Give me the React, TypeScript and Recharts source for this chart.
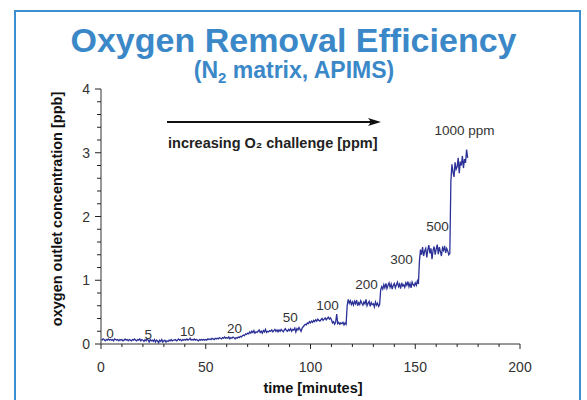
import React from 'react';
import { LineChart, Line, XAxis, YAxis, ReferenceDot } from 'recharts';

// Sampling interval of the recorded trace (minutes)
const SAMPLE_STEP_MIN = 0.5;

// Oxygen outlet concentration [ppb], one value every 0.5 min from t = 0 to 175 min
const outletPpb: number[] = [
  // 0 - 9.5
  0.07, 0.06, 0.08, 0.07, 0.05, 0.07, 0.06, 0.08, 0.06, 0.07,
  0.06, 0.07, 0.05, 0.08, 0.07, 0.06, 0.07, 0.05, 0.07, 0.06,
  // 10 - 19.5
  0.07, 0.05, 0.06, 0.08, 0.06, 0.07, 0.05, 0.07, 0.06, 0.05,
  0.07, 0.06, 0.08, 0.06, 0.05, 0.07, 0.06, 0.08, 0.05, 0.07,
  // 20 - 29.5
  0.06, 0.04, 0.07, 0.05, 0.08, 0.06, 0.03, 0.07, 0.05, 0.06,
  0.04, 0.07, 0.03, 0.06, 0.05, 0.02, 0.06, 0.04, 0.07, 0.03,
  // 30 - 39.5
  0.05, 0.06, 0.03, 0.05, 0.04, 0.06, 0.05, 0.07, 0.05, 0.06,
  0.06, 0.07, 0.05, 0.06, 0.08, 0.06, 0.07, 0.05, 0.07, 0.06,
  // 40 - 49.5
  0.07, 0.06, 0.08, 0.06, 0.07, 0.09, 0.06, 0.07, 0.06, 0.08,
  0.06, 0.07, 0.06, 0.05, 0.07, 0.06, 0.07, 0.06, 0.07, 0.06,
  // 50 - 59.5
  0.07, 0.06, 0.08, 0.07, 0.08, 0.07, 0.09, 0.08, 0.07, 0.09,
  0.08, 0.09, 0.08, 0.10, 0.09, 0.08, 0.10, 0.09, 0.11, 0.09,
  // 60 - 69.5
  0.10, 0.09, 0.11, 0.08, 0.10, 0.09, 0.11, 0.10, 0.08, 0.10,
  0.09, 0.11, 0.10, 0.12, 0.11, 0.13, 0.14, 0.13, 0.16, 0.15,
  // 70 - 79.5
  0.17, 0.16, 0.19, 0.17, 0.20, 0.18, 0.21, 0.17, 0.19, 0.18,
  0.20, 0.22, 0.18, 0.20, 0.17, 0.21, 0.19, 0.23, 0.18, 0.20,
  // 80 - 89.5
  0.19, 0.21, 0.20, 0.22, 0.19, 0.21, 0.23, 0.20, 0.22, 0.19,
  0.22, 0.20, 0.23, 0.21, 0.19, 0.22, 0.24, 0.21, 0.20, 0.23,
  // 90 - 99.5
  0.21, 0.24, 0.20, 0.23, 0.22, 0.25, 0.19, 0.24, 0.22, 0.26,
  0.23, 0.20, 0.25, 0.27, 0.29, 0.31, 0.30, 0.33, 0.32, 0.35,
  // 100 - 109.5
  0.33, 0.36, 0.34, 0.37, 0.35, 0.38, 0.36, 0.39, 0.37, 0.36,
  0.38, 0.40, 0.37, 0.39, 0.41, 0.38, 0.40, 0.42, 0.39, 0.41,
  // 110 - 119.5
  0.38, 0.33, 0.35, 0.31, 0.34, 0.47, 0.32, 0.34, 0.31, 0.33,
  0.32, 0.34, 0.30, 0.33, 0.31, 0.60, 0.70, 0.64, 0.68, 0.62,
  // 120 - 129.5
  0.66, 0.61, 0.67, 0.63, 0.69, 0.60, 0.65, 0.62, 0.68, 0.64,
  0.61, 0.66, 0.63, 0.70, 0.60, 0.64, 0.67, 0.59, 0.65, 0.62,
  // 130 - 139.5
  0.63, 0.58, 0.66, 0.61, 0.64, 0.59, 0.62, 0.85, 0.90, 0.86,
  0.93, 0.88, 0.95, 0.87, 0.92, 0.96, 0.89, 0.94, 0.86, 0.92,
  // 140 - 149.5
  0.95, 0.88, 0.93, 0.97, 0.90, 0.94, 0.87, 0.96, 0.91, 0.93,
  0.89, 0.96, 0.92, 0.98, 0.90, 0.95, 0.88, 0.97, 0.93, 0.91,
  // 150 - 159.5
  0.96, 0.92, 0.99, 0.94, 1.30, 1.48, 1.40, 1.52, 1.38, 1.46,
  1.50, 1.36, 1.48, 1.55, 1.42, 1.50, 1.33, 1.47, 1.53, 1.40,
  // 160 - 169.5
  1.49, 1.56, 1.41, 1.52, 1.45, 1.38, 1.51, 1.47, 1.54, 1.43,
  1.50, 1.46, 1.40, 1.42, 2.55, 2.82, 2.70, 2.62, 2.85, 2.74,
  // 170 - 175
  2.78, 2.92, 2.68, 2.86, 2.80, 2.95, 2.76, 2.90, 2.84, 3.05,
  2.92,
];

const xTicks = [0, 10, 20, 30, 40, 50, 60, 70, 80, 90, 100, 110, 120, 130, 140, 150, 160, 170, 180, 190, 200];
const yTicks = [0, 0.2, 0.4, 0.6, 0.8, 1, 1.2, 1.4, 1.6, 1.8, 2, 2.2, 2.4, 2.6, 2.8, 3, 3.2, 3.4, 3.6, 3.8, 4];

// O2 challenge level labels (placed at time [min], concentration [ppb])
const challengeText = ['0', '5', '10', '20', '50', '100', '200', '300', '500', '1000 ppm'];
const challengeT = [4.3, 22.6, 41.3, 63.7, 90.4, 108.1, 126.7, 143.4, 160.6, 173.5];
const challengePpb = [0.17, 0.16, 0.2, 0.25, 0.42, 0.61, 0.94, 1.33, 1.85, 3.35];

const data = outletPpb.map((v, i) => ({ t: i * SAMPLE_STEP_MIN, v }));

const FONT = "'Liberation Sans', Arial, Helvetica, sans-serif";

const XTick = (props: any) => {
  const { x, y, payload } = props;
  const v = payload.value as number;
  const major = v % 50 === 0;
  return (
    <g>
      <line x1={x} x2={x} y1={y} y2={y + (major ? 5 : 3)} stroke="#222" strokeWidth={1} />
      {major && (
        <text x={x} y={y + 28} textAnchor="middle" fontSize={14} fill="#333" fontFamily={FONT}>
          {v}
        </text>
      )}
    </g>
  );
};

const YTick = (props: any) => {
  const { x, y, payload } = props;
  const v = payload.value as number;
  const major = Math.abs(v - Math.round(v)) < 1e-6;
  return (
    <g>
      <line x1={x} x2={x - (major ? 6 : 4)} y1={y} y2={y} stroke="#222" strokeWidth={1} />
      {major && (
        <text x={x - 11} y={y + 5} textAnchor="end" fontSize={14} fill="#333" fontFamily={FONT}>
          {Math.round(v)}
        </text>
      )}
    </g>
  );
};

export default function App() {
  return (
    <div style={{ position: 'absolute', left: 0, top: 0, width: 587, height: 400, background: '#fff', overflow: 'hidden', fontFamily: FONT }}>
      <div
        style={{
          position: 'absolute',
          left: 14,
          top: 10,
          width: 567,
          height: 420,
          border: '2px solid #3d8fcf',
          boxSizing: 'border-box',
        }}
      />
      <div style={{ position: 'absolute', left: 0, top: 0 }}>
        <LineChart width={587} height={400} data={data} margin={{ top: 89, right: 67, bottom: 0, left: 41 }}>
          <XAxis
            dataKey="t"
            type="number"
            domain={[0, 200]}
            ticks={xTicks}
            interval={0}
            height={56}
            tickSize={0}
            tickMargin={0}
            tickLine={false}
            axisLine={{ stroke: '#333', strokeWidth: 1 }}
            tick={<XTick />}
          />
          <YAxis
            type="number"
            domain={[0, 4]}
            ticks={yTicks}
            interval={0}
            width={60}
            tickSize={0}
            tickMargin={0}
            tickLine={false}
            axisLine={{ stroke: '#777', strokeWidth: 1.5 }}
            tick={<YTick />}
          />
          <Line
            type="linear"
            dataKey="v"
            stroke="#2b3197"
            strokeWidth={1.3}
            dot={false}
            isAnimationActive={false}
          />
          {challengeText.map((txt, i) => (
            <ReferenceDot
              key={txt}
              x={challengeT[i]}
              y={challengePpb[i]}
              r={0}
              fill="none"
              stroke="none"
              label={{ value: txt, position: 'center', fontSize: 13.5, fill: '#333', fontFamily: FONT }}
            />
          ))}
        </LineChart>
      </div>
      <svg width={587} height={400} style={{ position: 'absolute', left: 0, top: 0, pointerEvents: 'none' }}>
        <text x={293.5} y={52} textAnchor="middle" fontSize={34} fontWeight="bold" fill="#3b88c8" fontFamily={FONT}>
          Oxygen Removal Efficiency
        </text>
        <text x={294} y={78} textAnchor="middle" fontSize={23} fontWeight="bold" fill="#3b88c8" fontFamily={FONT}>
          (N<tspan fontSize={15} dy={5}>2</tspan>
          <tspan dy={-5}> matrix, APIMS)</tspan>
        </text>
        <text
          transform="translate(62,209) rotate(-90)"
          textAnchor="middle"
          fontSize={14.5}
          fontWeight="bold"
          fill="#111"
          fontFamily={FONT}
        >
          oxygen outlet concentration [ppb]
        </text>
        <text x={313} y={393} textAnchor="middle" fontSize={14.5} fontWeight="bold" fill="#111" fontFamily={FONT}>
          time [minutes]
        </text>
        <line x1={167} y1={122} x2={374} y2={122} stroke="#111" strokeWidth={2} />
        <path d="M 368 118 L 381 122 L 368 126 L 371 122 Z" fill="#111" />
        <text x={168} y={148} fontSize={14.5} fontWeight="bold" fill="#222" fontFamily={FONT}>
          increasing O₂ challenge [ppm]
        </text>
      </svg>
    </div>
  );
}
